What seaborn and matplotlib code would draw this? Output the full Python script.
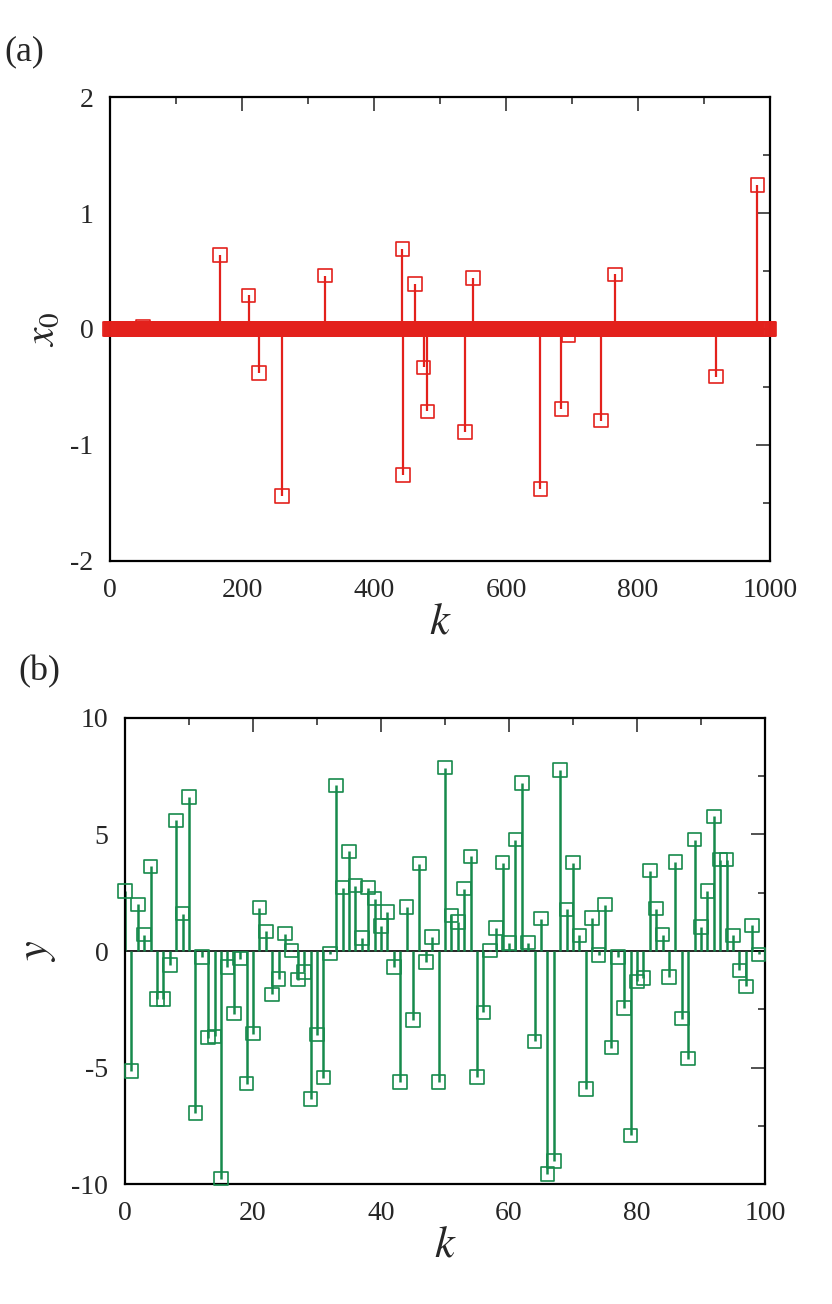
import numpy as np
import pandas as pd
import matplotlib
matplotlib.use("Agg")
import matplotlib.pyplot as plt
import seaborn as sns
from matplotlib.ticker import MultipleLocator

sns.set_style("white")
plt.rcParams["font.family"] = ["Liberation Serif", "DejaVu Serif"]
plt.rcParams["mathtext.fontset"] = "stix"
plt.rcParams["axes.unicode_minus"] = False

RED = "#e3211c"
GREEN = "#178a4c"

# panel (a): sparse signal x0 over k = 0..999 (nonzero entries only)
spike_k = [50, 167, 210, 226, 261, 326, 443, 444, 462, 475, 481,
           538, 550, 652, 684, 695, 744, 765, 918, 981]
spike_v = [0.02, 0.64, 0.29, -0.38, -1.44, 0.46, 0.69, -1.26, 0.39, -0.33, -0.71,
           -0.89, 0.44, -1.38, -0.69, -0.05, -0.79, 0.47, -0.41, 1.24]

# panel (b): measurements y over k = 0..99
y_vals = [2.57, -5.15, 2.0, 0.70, 3.63, -2.06, -2.06, -0.6, 5.61, 1.6,
          6.61, -6.95, -0.26, -3.72, -3.66, -9.77, -0.69, -2.69, -0.33, -5.69,
          -3.55, 1.86, 0.84, -1.86, -1.2, 0.75, 0.03, -1.23, -0.9, -6.34,
          -3.59, -5.43, -0.11, 7.11, 2.72, 4.28, 2.81, 0.56, 2.72, 2.25,
          1.07, 1.67, -0.69, -5.61, 1.89, -2.97, 3.75, -0.47, 0.6, -5.61,
          7.87, 1.53, 1.25, 2.68, 4.06, -5.41, -2.63, 0.03, 0.99, 3.79,
          0.34, 4.78, 7.21, 0.36, -3.88, 1.39, -9.58, -9.01, 7.76, 1.79,
          3.79, 0.67, -5.92, 1.42, -0.18, 1.99, -4.15, -0.26, -2.45, -7.91,
          -1.3, -1.16, 3.45, 1.82, 0.70, -1.11, 3.82, -2.9, -4.62, 4.78,
          1.03, 2.57, 5.78, 3.92, 3.92, 0.67, -0.83, -1.52, 1.1, -0.14]

x0 = np.zeros(1000)
x0[spike_k] = spike_v
df_a = pd.DataFrame({"k": np.arange(1000), "x0": x0})
df_b = pd.DataFrame({"k": np.arange(len(y_vals)), "y": y_vals})

fig = plt.figure(figsize=(8.32, 13.04), dpi=100)
ax1 = fig.add_axes([0.1322, 0.5698, 0.7933, 0.3558])
ax2 = fig.add_axes([0.1502, 0.0920, 0.7693, 0.3574])


def style_axes(ax):
    for s in ax.spines.values():
        s.set_linewidth(1.6)
        s.set_color("black")
    ax.tick_params(which="both", direction="in", top=True, right=True,
                   labelsize=20, color="#333333")
    ax.tick_params(axis="x", which="both", pad=12)
    ax.tick_params(axis="y", which="both", pad=12)
    ax.tick_params(which="major", length=10, width=1.2)
    ax.tick_params(which="minor", length=5, width=1.2)


# (a)
ax1.vlines(df_a["k"], 0, df_a["x0"], color=RED, lw=1.6, zorder=2)
sns.scatterplot(data=df_a, x="k", y="x0", ax=ax1, marker="s", s=95,
                facecolors="none", edgecolors=RED, linewidths=1.2,
                clip_on=False, zorder=3, legend=False)
ax1.set_xlim(0, 1000)
ax1.set_ylim(-2, 2)
ax1.xaxis.set_major_locator(MultipleLocator(200))
ax1.xaxis.set_minor_locator(MultipleLocator(100))
ax1.yaxis.set_major_locator(MultipleLocator(1))
ax1.yaxis.set_minor_locator(MultipleLocator(0.5))
style_axes(ax1)
ax1.set_xlabel("$k$", fontsize=32, labelpad=0)
ax1.set_ylabel("$x_{\\mathit{0}}$", fontsize=30, labelpad=6)

# (b)
ax2.axhline(0, color="black", lw=1.2, zorder=1)
ax2.vlines(df_b["k"], 0, df_b["y"], color=GREEN, lw=1.8, zorder=2)
sns.scatterplot(data=df_b, x="k", y="y", ax=ax2, marker="s", s=95,
                facecolors="none", edgecolors=GREEN, linewidths=1.2,
                clip_on=False, zorder=3, legend=False)
ax2.set_xlim(0, 100)
ax2.set_ylim(-10, 10)
ax2.xaxis.set_major_locator(MultipleLocator(20))
ax2.xaxis.set_minor_locator(MultipleLocator(10))
ax2.yaxis.set_major_locator(MultipleLocator(5))
ax2.yaxis.set_minor_locator(MultipleLocator(2.5))
style_axes(ax2)
ax2.set_xlabel("$k$", fontsize=32, labelpad=0)
ax2.set_ylabel("$y$", fontsize=32, labelpad=10)

fig.text(0.005, 0.96, "(a)", fontsize=26, va="center", ha="left")
fig.text(0.022, 0.485, "(b)", fontsize=26, va="center", ha="left")

fig.savefig("out.png", dpi=100)
